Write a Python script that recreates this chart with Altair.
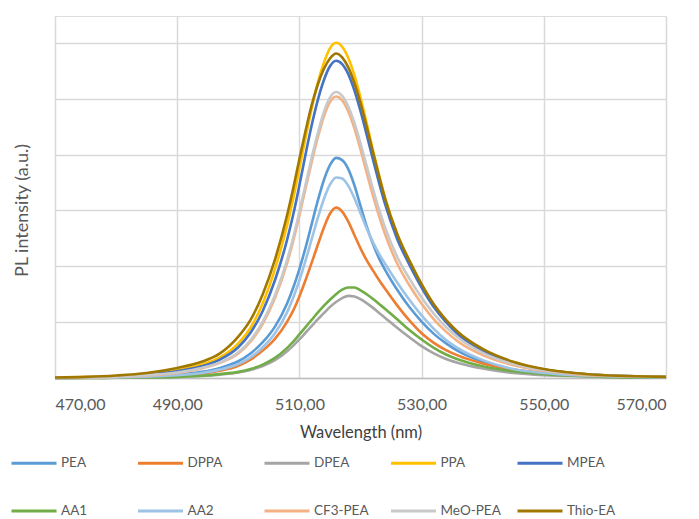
import altair as alt
import pandas as pd

wavelength = [470, 475, 480, 485, 490, 494, 497, 500, 502, 504, 506, 508, 509, 510,
              511, 512, 513, 514, 515, 516, 517, 518, 519, 520, 521, 522, 523, 524,
              526, 528, 530, 532, 534, 536, 540, 545, 550, 555, 560, 565, 570]

PEA = [0.00, 0.005, 0.015, 0.03, 0.06, 0.11, 0.18, 0.30, 0.44, 0.64, 0.92, 1.34, 1.62, 1.95,
       2.33, 2.75, 3.17, 3.54, 3.81, 3.94, 3.90, 3.74, 3.45, 3.08, 2.72, 2.41, 2.15, 1.94,
       1.58, 1.27, 1.01, 0.79, 0.62, 0.48, 0.29, 0.15, 0.08, 0.05, 0.03, 0.02, 0.01]
DPPA = [0.00, 0.005, 0.01, 0.02, 0.04, 0.08, 0.13, 0.22, 0.33, 0.49, 0.70, 1.01, 1.21, 1.46,
        1.75, 2.06, 2.38, 2.69, 2.94, 3.05, 2.98, 2.80, 2.56, 2.32, 2.11, 1.93, 1.76, 1.60,
        1.30, 1.03, 0.80, 0.63, 0.50, 0.40, 0.26, 0.15, 0.09, 0.05, 0.03, 0.02, 0.01]
DPEA = [0.00, 0.00, 0.005, 0.01, 0.02, 0.035, 0.06, 0.10, 0.145, 0.215, 0.32, 0.48, 0.58, 0.69,
        0.81, 0.93, 1.05, 1.16, 1.27, 1.36, 1.43, 1.47, 1.46, 1.41, 1.34, 1.26, 1.17, 1.08,
        0.90, 0.73, 0.57, 0.44, 0.34, 0.27, 0.17, 0.09, 0.05, 0.03, 0.02, 0.01, 0.01]
PPA = [0.01, 0.015, 0.03, 0.07, 0.14, 0.24, 0.37, 0.62, 0.90, 1.34, 1.95, 2.74, 3.22, 3.75,
       4.30, 4.82, 5.28, 5.64, 5.90, 6.00, 5.93, 5.73, 5.42, 5.02, 4.57, 4.10, 3.65, 3.23,
       2.58, 2.10, 1.67, 1.30, 1.02, 0.80, 0.50, 0.28, 0.15, 0.085, 0.05, 0.03, 0.02]
MPEA = [0.01, 0.01, 0.025, 0.06, 0.12, 0.21, 0.33, 0.55, 0.81, 1.20, 1.75, 2.48, 2.93, 3.45,
        4.00, 4.52, 4.97, 5.33, 5.58, 5.68, 5.62, 5.44, 5.15, 4.78, 4.36, 3.93, 3.51, 3.12,
        2.49, 2.03, 1.62, 1.27, 1.00, 0.78, 0.49, 0.27, 0.15, 0.085, 0.05, 0.03, 0.02]
AA1 = [0.00, 0.00, 0.005, 0.01, 0.02, 0.04, 0.07, 0.11, 0.16, 0.24, 0.36, 0.54, 0.65, 0.78,
       0.91, 1.04, 1.17, 1.29, 1.40, 1.50, 1.58, 1.62, 1.62, 1.57, 1.50, 1.42, 1.33, 1.24,
       1.05, 0.86, 0.69, 0.54, 0.42, 0.33, 0.21, 0.12, 0.07, 0.04, 0.02, 0.01, 0.01]
AA2 = [0.00, 0.005, 0.01, 0.025, 0.05, 0.09, 0.15, 0.25, 0.37, 0.55, 0.80, 1.18, 1.44, 1.75,
       2.10, 2.48, 2.86, 3.20, 3.46, 3.59, 3.57, 3.44, 3.22, 2.95, 2.68, 2.44, 2.23, 2.05,
       1.71, 1.40, 1.12, 0.88, 0.68, 0.53, 0.32, 0.16, 0.09, 0.05, 0.03, 0.02, 0.01]
CF3_PEA = [0.01, 0.01, 0.02, 0.045, 0.09, 0.17, 0.27, 0.44, 0.65, 0.97, 1.43, 2.06, 2.46, 2.91,
           3.39, 3.86, 4.30, 4.68, 4.94, 5.04, 4.97, 4.77, 4.47, 4.09, 3.68, 3.28, 2.91, 2.58,
           2.05, 1.66, 1.33, 1.05, 0.83, 0.65, 0.41, 0.23, 0.13, 0.07, 0.04, 0.03, 0.02]
MeO_PEA = [0.01, 0.01, 0.02, 0.05, 0.10, 0.18, 0.28, 0.46, 0.68, 1.01, 1.48, 2.12, 2.52, 2.98,
           3.46, 3.94, 4.38, 4.76, 5.02, 5.12, 5.05, 4.86, 4.57, 4.20, 3.80, 3.40, 3.03, 2.70,
           2.17, 1.78, 1.44, 1.15, 0.91, 0.72, 0.45, 0.25, 0.14, 0.08, 0.05, 0.03, 0.02]
Thio_EA = [0.01, 0.02, 0.045, 0.09, 0.18, 0.29, 0.44, 0.74, 1.04, 1.50, 2.12, 2.92, 3.40, 3.92,
           4.42, 4.88, 5.25, 5.53, 5.72, 5.81, 5.74, 5.56, 5.28, 4.92, 4.50, 4.06, 3.63, 3.22,
           2.58, 2.10, 1.68, 1.32, 1.04, 0.82, 0.52, 0.29, 0.16, 0.09, 0.05, 0.03, 0.02]

series_names = ["PEA", "DPPA", "DPEA", "PPA", "MPEA", "AA1", "AA2", "CF3-PEA", "MeO-PEA", "Thio-EA"]
series_values = [PEA, DPPA, DPEA, PPA, MPEA, AA1, AA2, CF3_PEA, MeO_PEA, Thio_EA]
series_colors = ["#5B9BD5", "#ED7D31", "#A5A5A5", "#FFC000", "#4472C4",
                 "#70AD47", "#9DC3E6", "#F4B183", "#C9C9C9", "#A07800"]

x_ticks = [470, 490, 510, 530, 550, 570]
y_grid = [0, 1, 2, 3, 4, 5, 6]

rows = []
for name, vals in zip(series_names, series_values):
    for w, v in zip(wavelength, vals):
        rows.append({"Wavelength": w, "Intensity": v, "Series": name})
df = pd.DataFrame(rows)

FONT = "Lato"

chart = alt.Chart(df).mark_line(strokeWidth=2.6, interpolate="monotone").encode(
    x=alt.X("Wavelength:Q",
            scale=alt.Scale(domain=[470, 570], nice=False, zero=False),
            axis=alt.Axis(values=x_ticks, title="Wavelength (nm)",
                          labelExpr="replace(format(datum.value, '.2f'), '.', ',')",
                          labelFont=FONT, labelFontSize=16, labelColor="#595959",
                          labelPadding=18, ticks=False, domainColor="#BFBFBF", domainWidth=1.5,
                          gridColor="#D9D9D9", gridWidth=1.5,
                          titleFont=FONT, titleFontSize=16.5, titleFontWeight="normal",
                          titleColor="#404040", titleY=54, titleBaseline="middle")),
    y=alt.Y("Intensity:Q",
            scale=alt.Scale(domain=[0, 6.48], nice=False),
            axis=alt.Axis(values=y_grid, labels=False, ticks=False, domain=False,
                          gridColor="#D9D9D9", gridWidth=1.5,
                          title="PL intensity (a.u.)", titleFont=FONT, titleFontSize=18,
                          titleFontWeight="normal", titleColor="#595959",
                          titleX=-33, titleY=194, titleBaseline="middle", titleAngle=270)),
    color=alt.Color("Series:N",
                    scale=alt.Scale(domain=series_names, range=series_colors),
                    legend=alt.Legend(orient="none", legendX=-45, legendY=423, columns=5,
                                      direction="horizontal",
                                      title=None, symbolType="stroke", symbolSize=2025,
                                      symbolStrokeWidth=3, gridAlign="all",
                                      columnPadding=9.5, rowPadding=17, labelOffset=3,
                                      labelFont=FONT, labelFontSize=13.5, labelColor="#595959",
                                      padding=0)),
    order=alt.Order("Wavelength:Q"),
).properties(
    width=611, height=362,
    autosize=alt.AutoSizeParams(type="none"),
    padding={"left": 55, "top": 16, "right": 33, "bottom": 141},
).configure_view(
    stroke="#BFBFBF", strokeWidth=1.5
).configure(background="white")

chart.save("out.html", embed_options={"renderer": "svg", "actions": False})
